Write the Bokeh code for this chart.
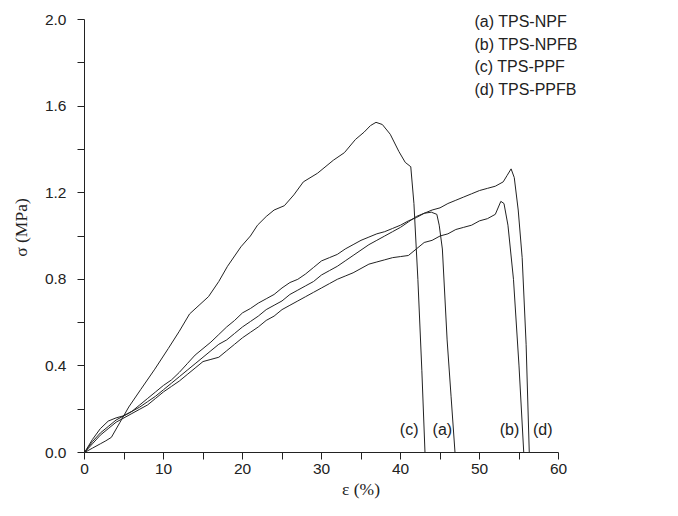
from bokeh.plotting import figure
from bokeh.models import FixedTicker, PrintfTickFormatter, Label, Range1d
from bokeh.embed import file_html
from bokeh.resources import INLINE

# (a) TPS-NPF  (strain %, stress MPa)
a_x = [0, 1, 2, 3, 4, 5, 6, 7, 8, 9, 10, 11, 12, 13, 14, 15, 16, 17, 18, 19, 20, 21, 22, 23, 24, 25, 26, 27, 28, 29, 30, 31, 32, 33, 34, 35, 36, 37, 38, 39, 40, 41, 42, 43, 43.9, 44.6, 44.9, 45.3, 45.9, 46.4, 46.9]
a_y = [0, 0.05, 0.09, 0.12, 0.15, 0.17, 0.19, 0.21, 0.235, 0.26, 0.29, 0.32, 0.35, 0.38, 0.41, 0.44, 0.47, 0.50, 0.52, 0.55, 0.58, 0.605, 0.63, 0.66, 0.68, 0.70, 0.73, 0.75, 0.77, 0.79, 0.82, 0.84, 0.86, 0.885, 0.91, 0.935, 0.96, 0.98, 1.00, 1.02, 1.04, 1.065, 1.09, 1.105, 1.11, 1.10, 1.05, 0.94, 0.52, 0.26, 0.0]
# (b) TPS-NPFB
b_x = [0, 1, 2, 3, 4, 5, 6, 7, 8, 9, 10, 11, 12, 13, 14, 15, 16, 17, 18, 19, 20, 21, 22, 23, 24, 25, 26, 27, 28, 29, 30, 31, 32, 33, 34, 35, 36, 37, 38, 39, 40, 41, 42, 43, 44, 45, 46, 47, 48, 49, 50, 51, 52, 52.7, 53.1, 53.6, 54.3, 55.0, 55.6]
b_y = [0, 0.04, 0.08, 0.11, 0.14, 0.16, 0.18, 0.20, 0.22, 0.25, 0.28, 0.305, 0.33, 0.36, 0.39, 0.42, 0.43, 0.44, 0.47, 0.50, 0.53, 0.555, 0.58, 0.61, 0.63, 0.66, 0.68, 0.70, 0.72, 0.74, 0.76, 0.78, 0.80, 0.815, 0.83, 0.85, 0.87, 0.88, 0.89, 0.90, 0.905, 0.91, 0.94, 0.97, 0.98, 1.00, 1.01, 1.03, 1.04, 1.05, 1.07, 1.08, 1.10, 1.16, 1.15, 1.05, 0.80, 0.40, 0.0]
# (c) TPS-PPF
c_x = [0, 1, 2, 2.7, 3.4, 4.5, 5.6, 7.1, 8.9, 10.6, 12, 13.3, 14.5, 15.7, 17, 18.1, 19.8, 21, 21.9, 23, 24, 25.3, 26.5, 27.7, 29.5, 31.5, 32.9, 34.3, 35.4, 36.2, 36.9, 37.7, 38.7, 39.8, 40.6, 41.3, 41.7, 42.2, 42.7, 43.1]
c_y = [0, 0.02, 0.04, 0.054, 0.07, 0.14, 0.21, 0.29, 0.385, 0.48, 0.56, 0.64, 0.68, 0.72, 0.79, 0.86, 0.95, 1.00, 1.05, 1.09, 1.12, 1.14, 1.19, 1.25, 1.29, 1.35, 1.385, 1.446, 1.48, 1.51, 1.525, 1.515, 1.47, 1.39, 1.34, 1.32, 1.15, 0.80, 0.38, 0.0]
# (d) TPS-PPFB
d_x = [0, 1, 2, 3, 4, 5, 6, 7, 8, 9, 10, 11, 12, 13, 14, 15, 16, 17, 18, 19, 20, 21, 22, 23, 24, 25, 26, 27, 28, 29, 30, 31, 32, 33, 34, 35, 36, 37, 38, 39, 40, 41, 42, 43, 44, 45, 46, 47, 48, 49, 50, 51, 52, 53, 53.5, 54.0, 54.4, 54.9, 55.4, 55.9, 56.3]
d_y = [0, 0.06, 0.11, 0.145, 0.16, 0.17, 0.19, 0.22, 0.25, 0.28, 0.31, 0.335, 0.37, 0.41, 0.45, 0.48, 0.51, 0.545, 0.58, 0.61, 0.645, 0.665, 0.69, 0.71, 0.73, 0.76, 0.785, 0.80, 0.825, 0.855, 0.885, 0.90, 0.915, 0.94, 0.96, 0.98, 0.995, 1.01, 1.02, 1.035, 1.05, 1.07, 1.085, 1.105, 1.12, 1.13, 1.15, 1.165, 1.18, 1.195, 1.21, 1.22, 1.23, 1.25, 1.28, 1.31, 1.27, 1.12, 0.90, 0.50, 0.0]

series = [(a_x, a_y), (b_x, b_y), (c_x, c_y), (d_x, d_y)]
legend_lines = ["(a) TPS-NPF", "(b) TPS-NPFB", "(c) TPS-PPF", "(d) TPS-PPFB"]
end_labels = ["(c)", "(a)", "(b)", "(d)"]
end_label_x = [41.1, 45.3, 53.8, 58.0]

x_major = [0, 10, 20, 30, 40, 50, 60]
x_minor = [5, 15, 25, 35, 45, 55]
y_major = [0.0, 0.4, 0.8, 1.2, 1.6, 2.0]
y_minor = [0.2, 0.6, 1.0, 1.4, 1.8]

ink = "#222222"
# axes stop at 60 % and 2.0 MPa (bounds); the frame runs a little further so the
# legend text in the upper right is not clipped
px_per_pct = 474 / 60.0
px_per_mpa = 433 / 2.0
frame_w = 553
frame_h = 450

p = figure(width=662, height=500, output_backend="svg", toolbar_location=None,
           x_range=Range1d(0, frame_w / px_per_pct), y_range=Range1d(0, frame_h / px_per_mpa),
           frame_width=frame_w, frame_height=frame_h,
           min_border_left=84, min_border_top=2, min_border_right=25, min_border_bottom=48)
p.outline_line_color = None
p.grid.visible = False
p.background_fill_color = "white"
p.border_fill_color = "white"

for xs, ys in series:
    p.line(xs, ys, line_color=ink, line_width=1)

p.xaxis.ticker = FixedTicker(ticks=x_major, minor_ticks=x_minor)
p.yaxis.ticker = FixedTicker(ticks=y_major, minor_ticks=y_minor)
p.xaxis.bounds = (0, 60)
p.yaxis.bounds = (0, 2.0)
p.yaxis.formatter = PrintfTickFormatter(format="%.1f")
for ax in (p.xaxis, p.yaxis):
    ax.major_tick_in = 0
    ax.major_tick_out = 7
    ax.minor_tick_in = 0
    ax.minor_tick_out = 7
    ax.axis_line_color = ink
    ax.major_tick_line_color = ink
    ax.minor_tick_line_color = ink
    ax.major_label_text_font = "Liberation Sans"
    ax.major_label_text_font_size = "15.5px"
    ax.major_label_text_color = ink
    ax.axis_label_text_font = "Liberation Serif"
    ax.axis_label_text_font_size = "17.5px"
    ax.axis_label_text_font_style = "normal"
    ax.axis_label_text_color = ink

p.xaxis.axis_label = "ε (%)"
p.yaxis.axis_label = "σ (MPa)"
p.xaxis.major_label_standoff = 4
p.yaxis.major_label_standoff = 11
p.xaxis.axis_label_standoff = 2
p.yaxis.axis_label_standoff = 11

for i, t in enumerate(legend_lines):
    p.add_layout(Label(x=390, y=431 - 22.7 * i, x_units="screen", y_units="screen",
                       text=t, text_font="Liberation Sans", text_font_size="16px",
                       text_color=ink, text_baseline="middle", text_align="left"))

for t, xv in zip(end_labels, end_label_x):
    p.add_layout(Label(x=xv, y=0.105, text=t, text_font="Liberation Sans", text_font_size="16px",
                       text_color=ink, text_baseline="middle", text_align="center"))

open("out.html", "w").write(file_html(p, INLINE))
